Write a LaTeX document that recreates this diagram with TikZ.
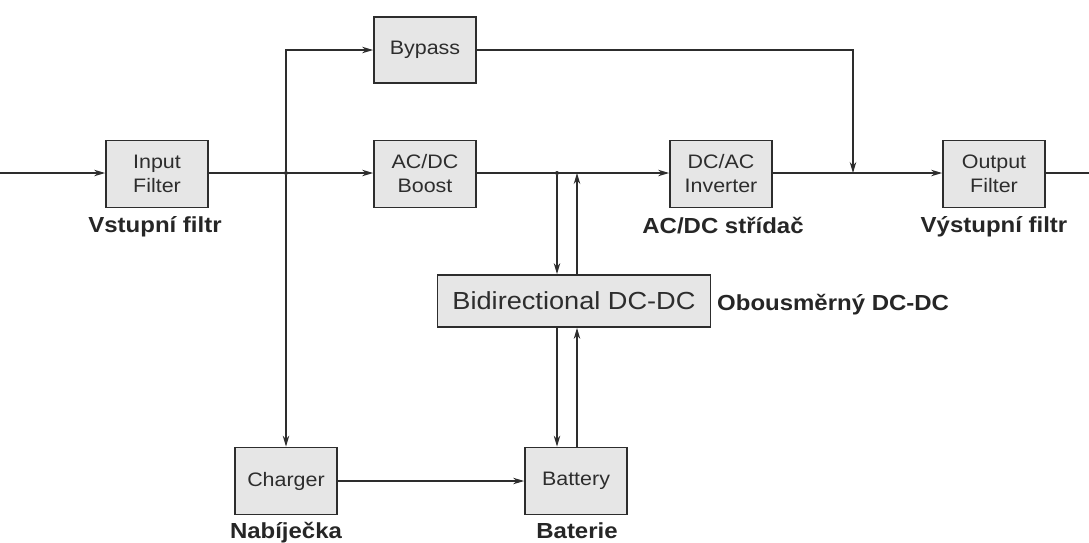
\documentclass[tikz,border=0pt]{standalone}
\usepackage{fontspec}
\setmainfont{Liberation Sans}[FakeStretch=1.1]
\usepackage{tikz}
\usetikzlibrary{arrows.meta,positioning,calc}
\definecolor{grisBloc}{RGB}{230,230,230}
\definecolor{grisTrait}{RGB}{45,45,45}

\begin{document}
\begin{tikzpicture}[x=1pt,y=-1pt,
  bloc/.style={rectangle,minimum width=102pt,minimum height=67pt,inner sep=0pt,
               text centered,align=center,draw=grisTrait,line width=1.8pt,fill=grisBloc,
               font=\fontsize{19.5}{24}\selectfont,text=grisTrait},
  legende/.style={inner sep=0pt,anchor=base,font=\fontsize{21.8}{26}\selectfont\bfseries,
                  text=black!85},
  fleche/.style={-{Stealth[length=11pt,width=6.5pt]},line width=1.1pt,grisTrait},
  trait/.style={line width=1.1pt,grisTrait},
  point/.style={circle,fill=grisTrait,inner sep=0pt,minimum size=4pt}]

  \useasboundingbox (0,0) rectangle (1089,542);

  \node[bloc] (IF) at (157,174) {Input\\Filter};
  \node[bloc,minimum height=66pt] (BP) at (425,50) {Bypass};
  \node[bloc] (BO) at (425,174) {AC/DC\\Boost};
  \node[bloc] (INV) at (721,174) {DC/AC\\Inverter};
  \node[bloc] (OF) at (994,174) {Output\\Filter};
  \node[bloc,minimum width=273pt,minimum height=52pt,
        font=\fontsize{24.7}{28}\selectfont] (BD) at (574,301) {Bidirectional DC-DC};
  \node[bloc] (CH) at (286,481) {Charger};
  \node[bloc] (BAT) at (576,481) {Battery};

  \node[legende] (lIF) at (155,232) {Vstupní filtr};
  \node[legende] (lINV) at (723,233) {AC/DC střídač};
  \node[legende] (lOF) at (994,232) {Výstupní filtr};
  \node[legende,anchor=base west] (lBD) at (717,310) {Obousměrný DC-DC};
  \node[legende] (lCH) at (286,538) {Nabíječka};
  \node[legende] (lBAT) at (577,538) {Baterie};

  \coordinate (entree) at (0,173);
  \coordinate (sortie) at (1089,173);
  \node[point] (J1) at (286,173) {};
  \node[point] (J2) at (557,173) {};
  \coordinate (J3) at (577,173);
  \coordinate (J4) at (853,173);

  \draw[fleche] (entree) -- (IF.west |- entree);
  \draw[fleche] (IF.east |- entree) -- (BO.west |- entree);
  \draw[fleche] (J1) |- (BP.west);
  \draw[fleche] (J1) -- (CH.north);
  \draw[fleche] (BO.east |- entree) -- (INV.west |- entree);
  \draw[fleche] (J2) -- (J2 |- BD.north);
  \draw[fleche] (J3 |- BD.north) -- (J3);
  \draw[fleche] (J2 |- BD.south) -- (J2 |- BAT.north);
  \draw[fleche] (J3 |- BAT.north) -- (J3 |- BD.south);
  \draw[fleche] (CH.east) -- (BAT.west);
  \draw[fleche] (BP.east) -| (J4);
  \draw[fleche] (INV.east |- entree) -- (OF.west |- entree);
  \draw[trait] (OF.east |- entree) -- (sortie);
\end{tikzpicture}
\end{document}
